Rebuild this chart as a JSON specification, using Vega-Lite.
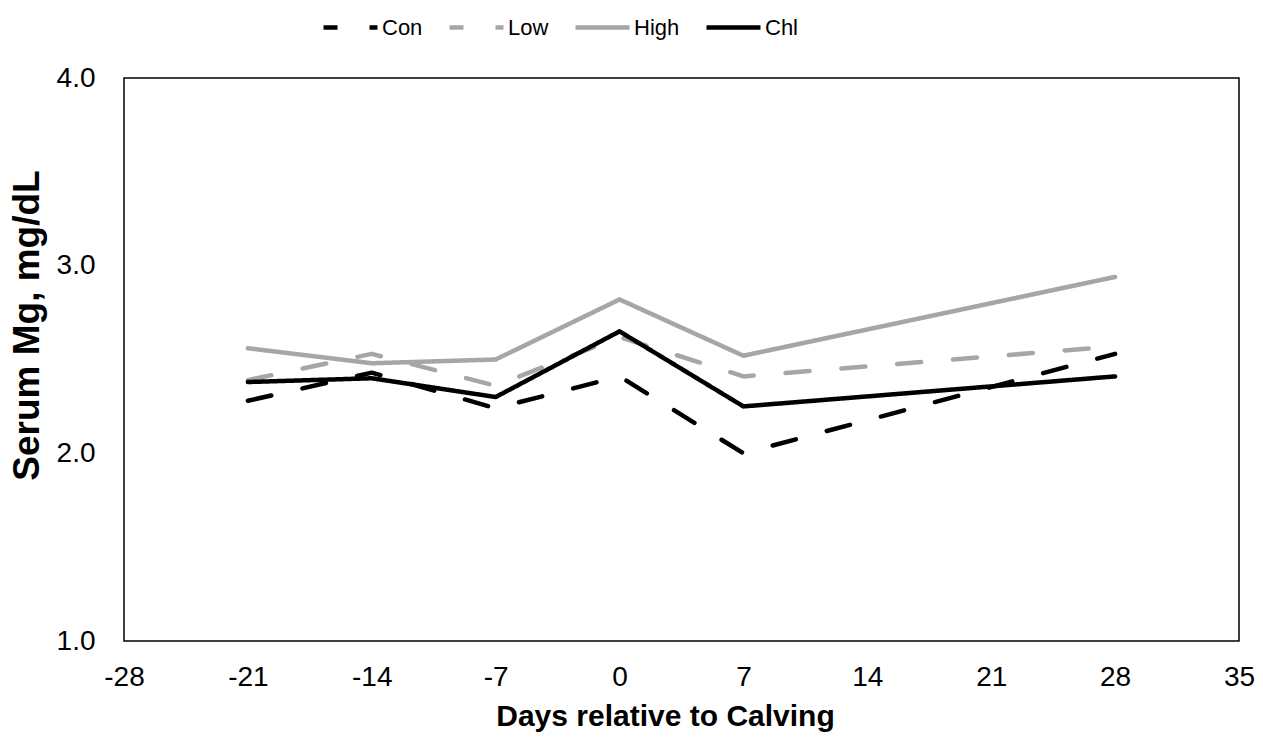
{
  "$schema": "https://vega.github.io/schema/vega-lite/v6.json",
  "width": 1115,
  "height": 563,
  "autosize": {"type": "none"},
  "padding": {"left": 124, "top": 78, "right": 24, "bottom": 101},
  "background": "white",
  "config": {
    "font": "Liberation Sans",
    "view": {"stroke": "#000000", "strokeWidth": 1.5},
    "axis": {"grid": false, "ticks": false, "domain": false, "labelColor": "#000", "titleColor": "#000", "labelFont": "Liberation Sans", "titleFont": "Liberation Sans"}
  },
  "data": {
    "values": [
      {"day": -21, "trt": "Con", "mg": 2.28},
      {"day": -14, "trt": "Con", "mg": 2.43},
      {"day": -7, "trt": "Con", "mg": 2.24},
      {"day": 0, "trt": "Con", "mg": 2.41},
      {"day": 7, "trt": "Con", "mg": 2.00},
      {"day": 28, "trt": "Con", "mg": 2.53},
      {"day": -21, "trt": "Low", "mg": 2.39},
      {"day": -14, "trt": "Low", "mg": 2.53},
      {"day": -7, "trt": "Low", "mg": 2.36},
      {"day": 0, "trt": "Low", "mg": 2.62},
      {"day": 7, "trt": "Low", "mg": 2.41},
      {"day": 28, "trt": "Low", "mg": 2.57},
      {"day": -21, "trt": "High", "mg": 2.56},
      {"day": -14, "trt": "High", "mg": 2.48},
      {"day": -7, "trt": "High", "mg": 2.50},
      {"day": 0, "trt": "High", "mg": 2.82},
      {"day": 7, "trt": "High", "mg": 2.52},
      {"day": 28, "trt": "High", "mg": 2.94},
      {"day": -21, "trt": "Chl", "mg": 2.38},
      {"day": -14, "trt": "Chl", "mg": 2.40},
      {"day": -7, "trt": "Chl", "mg": 2.30},
      {"day": 0, "trt": "Chl", "mg": 2.65},
      {"day": 7, "trt": "Chl", "mg": 2.25},
      {"day": 28, "trt": "Chl", "mg": 2.41}
    ]
  },
  "mark": {"type": "line", "strokeWidth": 4.5, "strokeCap": "round", "strokeJoin": "round"},
  "encoding": {
    "x": {
      "field": "day", "type": "quantitative",
      "scale": {"domain": [-28, 35], "nice": false, "zero": false},
      "axis": {"values": [-28, -21, -14, -7, 0, 7, 14, 21, 28, 35], "labelExpr": "toString(datum.value)", "title": "Days relative to Calving", "labelFontSize": 28, "labelPadding": 22, "titleFontSize": 30, "titleFontWeight": "bold", "titleX": 541, "titleY": 84, "titleBaseline": "alphabetic", "titleAlign": "center", "labelFlush": false}
    },
    "y": {
      "field": "mg", "type": "quantitative",
      "scale": {"domain": [1, 4], "nice": false, "zero": false},
      "axis": {"values": [1, 2, 3, 4], "format": ".1f", "title": "Serum Mg, mg/dL", "labelFontSize": 28, "labelPadding": 29, "titleFontSize": 37, "titleFontWeight": "bold", "titleX": -86, "titleY": 247, "titleBaseline": "alphabetic", "titleAlign": "center", "titleAngle": -90, "labelFlush": false}
    },
    "color": {
      "field": "trt", "type": "nominal",
      "scale": {"domain": ["Con", "Low", "High", "Chl"], "range": ["#000000", "#A6A6A6", "#A6A6A6", "#000000"]},
      "legend": {
        "title": null, "orient": "none", "direction": "horizontal", "columns": 4,
        "legendX": 197, "legendY": -80,
        "symbolType": "stroke", "symbolSize": 2916, "symbolStrokeWidth": 4.5, "symbolDashOffset": 10,
        "labelFontSize": 22, "labelColor": "#000", "labelOffset": 2, "columnPadding": 17, "gridAlign": "none",
        "encoding": {"symbols": {"update": {"strokeCap": {"value": "round"}}}}
      }
    },
    "strokeDash": {
      "field": "trt", "type": "nominal",
      "scale": {"domain": ["Con", "Low", "High", "Chl"], "range": [[24, 32], [24, 32], [1, 0], [1, 0]]},
      "legend": {
        "title": null, "orient": "none", "direction": "horizontal", "columns": 4,
        "legendX": 197, "legendY": -80,
        "symbolType": "stroke", "symbolSize": 2916, "symbolStrokeWidth": 4.5, "symbolDashOffset": 10,
        "labelFontSize": 22, "labelColor": "#000", "labelOffset": 2, "columnPadding": 17, "gridAlign": "none",
        "encoding": {"symbols": {"update": {"strokeCap": {"value": "round"}}}}
      }
    },
    "order": {"field": "day", "type": "quantitative"}
  }
}
